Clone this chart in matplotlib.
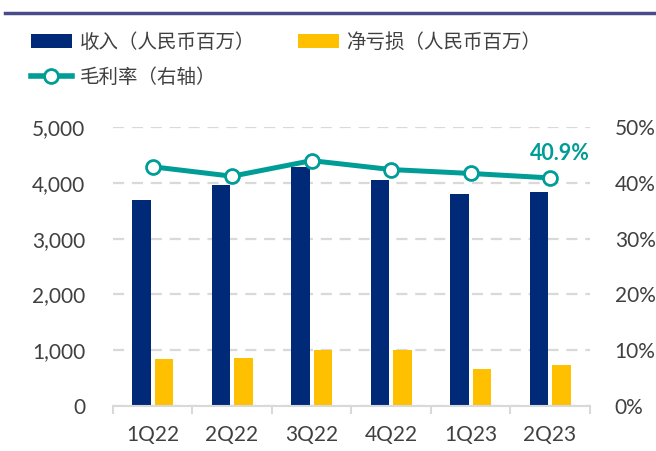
import matplotlib.pyplot as plt
from matplotlib.lines import Line2D
from matplotlib.patches import Patch
from matplotlib.ticker import FuncFormatter, FixedLocator
import numpy as np

plt.rcParams['font.family'] = ['Lato', 'Noto Sans CJK SC', 'DejaVu Sans']

quarters = ["1Q22", "2Q22", "3Q22", "4Q22", "1Q23", "2Q23"]
revenue = [3692, 3961, 4288, 4050, 3794, 3841]
net_loss = [839, 862, 1000, 1000, 655, 726]
gross_margin = [42.9, 41.2, 44.0, 42.4, 41.7, 40.9]

NAVY = "#002A78"
GOLD = "#FFC000"
TEAL = "#009D97"
TEXT = "#404040"
GRID = "#D9D9D9"

fig = plt.figure(figsize=(6.56, 4.51), dpi=100)
ax = fig.add_axes([0.172, 0.1, 0.727, 0.618])
x = np.arange(len(quarters))

ax.bar(x - 0.14, revenue, width=0.23, color=NAVY, zorder=2)
ax.bar(x + 0.145, net_loss, width=0.23, color=GOLD, zorder=2)

ax.set_xlim(-0.5, len(quarters) - 0.5)
ax.set_ylim(0, 5000)
ax.set_yticks(range(0, 5001, 1000))
ax.yaxis.set_major_formatter(FuncFormatter(lambda v, p: f"{int(v):,}"))
ax.grid(axis="y", color=GRID, linestyle=(0, (5, 3.5)), linewidth=1.6, zorder=0)
ax.set_xticks(x)
ax.set_xticklabels(quarters)
ax.xaxis.set_minor_locator(FixedLocator(np.arange(-0.5, len(quarters), 1)))
ax.tick_params(axis="x", which="major", length=0, pad=14, labelsize=15, labelcolor=TEXT)
ax.tick_params(axis="x", which="minor", length=6, width=1.5, color=GRID, direction="out")
ax.tick_params(axis="y", length=0, pad=20, labelsize=15, labelcolor=TEXT)
for s in ["top", "right", "left"]:
    ax.spines[s].set_visible(False)
ax.spines["bottom"].set_color(GRID)
ax.spines["bottom"].set_linewidth(1.5)

ax2 = ax.twinx()
ax2.plot(x, gross_margin, color=TEAL, linewidth=3.6, marker="o", markersize=10,
         markerfacecolor="white", markeredgecolor=TEAL, markeredgewidth=2, zorder=3)
ax2.set_ylim(0, 50)
ax2.set_yticks(range(0, 51, 10))
ax2.yaxis.set_major_formatter(FuncFormatter(lambda v, p: f"{int(v)}%"))
ax2.tick_params(axis="y", length=0, pad=18, labelsize=15, labelcolor=TEXT)
for s in ax2.spines.values():
    s.set_visible(False)
ax2.annotate(f"{gross_margin[-1]}%", (x[-1], gross_margin[-1]), xytext=(7, 10),
             textcoords="offset points", ha="center", va="bottom",
             color=TEAL, fontsize=15.5, fontweight="bold")

# top rule
fig.add_artist(Line2D([0.008, 1.0], [0.971, 0.971], color="#4B4A8A", linewidth=2.5))

handles = [
    Patch(facecolor=NAVY, edgecolor="none"),
    Line2D([], [], color=TEAL, linewidth=4, marker="o", markersize=10,
           markerfacecolor="white", markeredgecolor=TEAL, markeredgewidth=2),
    Patch(facecolor=GOLD, edgecolor="none"),
]
labels = ["收入（人民币百万）", "毛利率（右轴）", "净亏损（人民币百万）"]
fig.legend(handles, labels, loc="upper left", bbox_to_anchor=(0.047, 0.93), ncol=2,
           frameon=False, prop={"family": ["Noto Sans CJK SC"], "size": 14},
           labelcolor=TEXT, handlelength=2.1, handleheight=0.7, handletextpad=0.4,
           columnspacing=2.2, labelspacing=0.75, borderaxespad=0, borderpad=0)

fig.savefig("out.png", dpi=100)
